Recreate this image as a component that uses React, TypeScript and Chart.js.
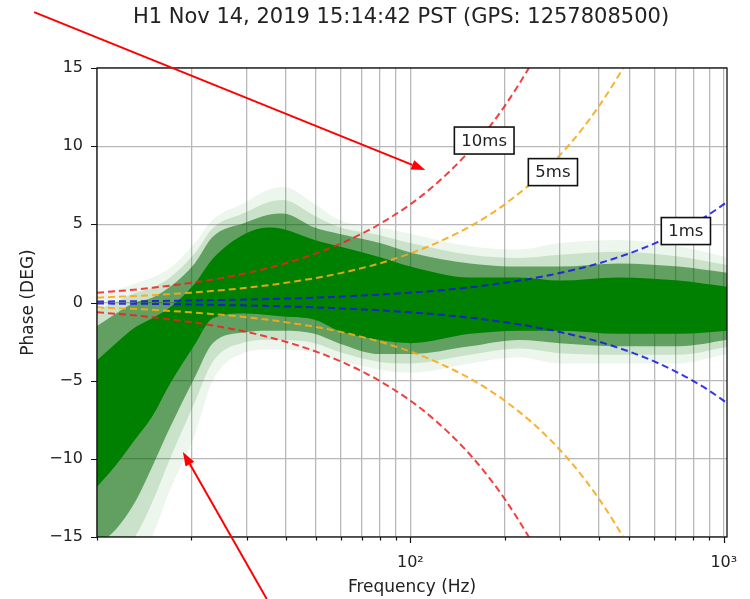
import React, { useEffect, useRef } from 'react';
import { Chart, registerables } from 'chart.js';

Chart.register(...registerables);

const TITLE = 'H1 Nov 14, 2019 15:14:42 PST (GPS: 1257808500)';
const X_LABEL = 'Frequency (Hz)';
const Y_LABEL = 'Phase (DEG)';
const X_MIN = 10;
const X_MAX = 1024;
const Y_MIN = -15;
const Y_MAX = 15;
const Y_TICKS = [-15, -10, -5, 0, 5, 10, 15];
const X_GRID_TICKS = [10, 20, 30, 40, 50, 60, 70, 80, 90, 100, 200, 300, 400, 500, 600, 700, 800, 900, 1000];
const X_MAJOR_TICKS = [100, 1000];
const X_MAJOR_LABELS = ['10²', '10³'];

const BAND_FREQ = [10, 11.5, 13.2, 15, 17.1, 20.5, 23.4, 29.7, 35, 39.2, 49.5, 59, 80, 100, 155, 222, 300, 463, 718, 1024];
const CORE_UPPER = [-3.7, -2.6, -1.6, -1.0, -0.3, 1.2, 2.8, 4.4, 4.8, 4.7, 4.0, 3.6, 2.9, 2.3, 1.6, 1.6, 1.4, 1.6, 1.4, 1.0];
const CORE_LOWER = [-11.8, -10.4, -8.8, -7.3, -5.2, -2.7, -1.0, -0.7, -0.8, -0.9, -1.1, -1.8, -2.4, -2.6, -2.0, -1.8, -1.8, -2.0, -2.0, -1.8];
const INNER_UPPER = [-1.5, -0.7, 0.0, 0.3, 1.0, 2.5, 4.2, 5.1, 5.6, 5.7, 4.8, 4.4, 3.8, 3.2, 2.5, 2.3, 2.3, 2.5, 2.3, 1.9];
const INNER_LOWER = [-15.5, -14.5, -12.8, -10.5, -8.0, -4.8, -2.6, -1.9, -1.8, -1.8, -2.0, -2.6, -3.3, -3.3, -2.8, -2.4, -2.6, -2.8, -2.8, -2.4];
const MIDDLE_UPPER = [-0.5, 0.05, 0.6, 0.95, 1.6, 3.15, 4.75, 5.75, 6.4, 6.55, 5.55, 4.85, 4.3, 3.8, 3.05, 2.85, 3.05, 3.25, 2.95, 2.4];
const MIDDLE_LOWER = [-17, -16, -15, -12.8, -10, -6.4, -3.8, -2.55, -2.4, -2.4, -2.6, -3.15, -3.8, -3.9, -3.35, -2.95, -3.25, -3.35, -3.35, -2.85];
const HALO_UPPER = [0.5, 0.8, 1.2, 1.6, 2.2, 3.8, 5.3, 6.4, 7.2, 7.4, 6.3, 5.3, 4.8, 4.4, 3.6, 3.4, 3.8, 4.0, 3.6, 2.9];
const HALO_LOWER = [-19, -18, -17, -15, -12, -8.5, -5, -3.2, -3.0, -3.0, -3.2, -3.7, -4.3, -4.5, -3.9, -3.5, -3.9, -3.9, -3.9, -3.3];

// Time-delay phase curves (±)
const DELAY_FREQ = [10, 12, 15, 20, 25, 30, 40, 50, 60, 70, 80, 100, 120, 150, 180, 200, 240, 280, 320, 360, 400, 450, 500, 600, 700, 800, 900, 1024];
const P10MS = [0.63, 0.75, 0.94, 1.26, 1.57, 1.88, 2.51, 3.14, 3.77, 4.40, 5.03, 6.28, 7.54, 9.42, 11.31, 12.57, 15.08, 17.59];
const N10MS = [-0.63, -0.75, -0.94, -1.26, -1.57, -1.88, -2.51, -3.14, -3.77, -4.40, -5.03, -6.28, -7.54, -9.42, -11.31, -12.57, -15.08, -17.59];
const P5MS = [0.31, 0.38, 0.47, 0.63, 0.79, 0.94, 1.26, 1.57, 1.88, 2.20, 2.51, 3.14, 3.77, 4.71, 5.65, 6.28, 7.54, 8.80, 10.05, 11.31, 12.57, 14.14, 15.71, 18.85];
const N5MS = [-0.31, -0.38, -0.47, -0.63, -0.79, -0.94, -1.26, -1.57, -1.88, -2.20, -2.51, -3.14, -3.77, -4.71, -5.65, -6.28, -7.54, -8.80, -10.05, -11.31, -12.57, -14.14, -15.71, -18.85];
const P1MS = [0.06, 0.08, 0.09, 0.13, 0.16, 0.19, 0.25, 0.31, 0.38, 0.44, 0.50, 0.63, 0.75, 0.94, 1.13, 1.26, 1.51, 1.76, 2.01, 2.26, 2.51, 2.83, 3.14, 3.77, 4.40, 5.03, 5.65, 6.43];
const N1MS = [-0.06, -0.08, -0.09, -0.13, -0.16, -0.19, -0.25, -0.31, -0.38, -0.44, -0.50, -0.63, -0.75, -0.94, -1.13, -1.26, -1.51, -1.76, -2.01, -2.26, -2.51, -2.83, -3.14, -3.77, -4.40, -5.03, -5.65, -6.43];

// Curve labels
const LABELS = ['10ms', '5ms', '1ms'];
const LABEL_FREQ = [172, 285, 757];
const LABEL_PHASE = [10.36, 8.34, 4.57];

// Red annotation arrows (data coordinates)
const ARROW_TAIL_FREQ = [6.3, 34.8];
const ARROW_TAIL_PHASE = [18.57, -18.96];
const ARROW_HEAD_FREQ = [111.6, 18.8];
const ARROW_HEAD_PHASE = [8.47, -9.56];

const FONT = '"DejaVu Sans", sans-serif';
const GREEN = 'rgb(0,128,0)';

function pts(xs: number[], ys: number[]) {
  return ys.map((y, i) => ({ x: xs[i], y }));
}

function band(data: number[], fill: any, color: string, order: number) {
  return {
    data: pts(BAND_FREQ, data),
    borderWidth: 0,
    borderColor: 'transparent',
    backgroundColor: color,
    pointRadius: 0,
    fill,
    cubicInterpolationMode: 'monotone',
    order,
  };
}

function dashed(data: number[], color: string) {
  return {
    data: pts(DELAY_FREQ, data),
    borderColor: color,
    borderWidth: 2,
    borderDash: [7, 4],
    pointRadius: 0,
    fill: false,
    cubicInterpolationMode: 'monotone',
    order: 0,
  };
}

const overlay = {
  id: 'overlay',
  afterDatasetsDraw(chart: any) {
    const { ctx, scales } = chart;
    const xs = scales.x;
    const ys = scales.y;
    ctx.save();
    ctx.font = `16.5px ${FONT}`;
    ctx.textAlign = 'center';
    ctx.textBaseline = 'middle';
    LABELS.forEach((t, i) => {
      const cx = xs.getPixelForValue(LABEL_FREQ[i]);
      const cy = ys.getPixelForValue(LABEL_PHASE[i]);
      const w = ctx.measureText(t).width + 14;
      const h = 27;
      ctx.fillStyle = '#fff';
      ctx.fillRect(cx - w / 2, cy - h / 2, w, h);
      ctx.strokeStyle = '#111';
      ctx.lineWidth = 1.6;
      ctx.strokeRect(cx - w / 2, cy - h / 2, w, h);
      ctx.fillStyle = '#222';
      ctx.fillText(t, cx, cy + 1);
    });
    ctx.restore();
  },
  afterDraw(chart: any) {
    const { ctx, chartArea: a, scales } = chart;
    const xs = scales.x;
    const ys = scales.y;
    ctx.save();
    // frame
    ctx.strokeStyle = '#111';
    ctx.lineWidth = 1.3;
    ctx.strokeRect(a.left, a.top, a.right - a.left, a.bottom - a.top);
    // tick marks
    ctx.lineWidth = 1.2;
    ctx.beginPath();
    X_GRID_TICKS.forEach((v) => {
      const px = Math.round(xs.getPixelForValue(v)) + 0.5;
      const len = X_MAJOR_TICKS.includes(v) ? 6 : 3.5;
      ctx.moveTo(px, a.bottom);
      ctx.lineTo(px, a.bottom + len);
    });
    Y_TICKS.forEach((v) => {
      const py = Math.round(ys.getPixelForValue(v)) + 0.5;
      ctx.moveTo(a.left, py);
      ctx.lineTo(a.left - 6, py);
    });
    ctx.stroke();
    // title & axis titles
    ctx.fillStyle = '#222';
    ctx.textAlign = 'center';
    ctx.textBaseline = 'middle';
    ctx.font = `21px ${FONT}`;
    ctx.fillText(TITLE, 401, 18);
    ctx.font = `17px ${FONT}`;
    ctx.fillText(X_LABEL, (a.left + a.right) / 2, 588);
    ctx.save();
    ctx.translate(29, (a.top + a.bottom) / 2);
    ctx.rotate(-Math.PI / 2);
    ctx.fillText(Y_LABEL, 0, 0);
    ctx.restore();
    // arrows
    ctx.strokeStyle = 'rgb(255,0,0)';
    ctx.fillStyle = 'rgb(255,0,0)';
    ctx.lineWidth = 2;
    ARROW_TAIL_FREQ.forEach((_, i) => {
      const x0 = xs.getPixelForValue(ARROW_TAIL_FREQ[i]);
      const y0 = ys.getPixelForValue(ARROW_TAIL_PHASE[i]);
      const x1 = xs.getPixelForValue(ARROW_HEAD_FREQ[i]);
      const y1 = ys.getPixelForValue(ARROW_HEAD_PHASE[i]);
      const ang = Math.atan2(y1 - y0, x1 - x0);
      const hl = 14;
      const hw = 5;
      const bx = x1 - hl * Math.cos(ang);
      const by = y1 - hl * Math.sin(ang);
      ctx.beginPath();
      ctx.moveTo(x0, y0);
      ctx.lineTo(bx, by);
      ctx.stroke();
      ctx.beginPath();
      ctx.moveTo(x1, y1);
      ctx.lineTo(bx + hw * Math.sin(ang), by - hw * Math.cos(ang));
      ctx.lineTo(bx - hw * Math.sin(ang), by + hw * Math.cos(ang));
      ctx.closePath();
      ctx.fill();
    });
    ctx.restore();
  },
};

export default function App() {
  const ref = useRef<HTMLCanvasElement | null>(null);
  useEffect(() => {
    if (!ref.current) return;
    const datasets: any[] = [
      // pairs: halo, middle, inner, core (upper fills to the lower one after it)
      band(HALO_UPPER, '+1', 'rgba(0,128,0,0.07)', 4),
      band(HALO_LOWER, false, 'transparent', 4),
      band(MIDDLE_UPPER, '+1', 'rgba(0,115,0,0.15)', 3),
      band(MIDDLE_LOWER, false, 'transparent', 3),
      band(INNER_UPPER, '+1', 'rgba(0,100,0,0.52)', 2),
      band(INNER_LOWER, false, 'transparent', 2),
      band(CORE_UPPER, '+1', GREEN, 1),
      band(CORE_LOWER, false, 'transparent', 1),
      dashed(P10MS, 'rgba(240,30,30,0.85)'),
      dashed(N10MS, 'rgba(240,30,30,0.85)'),
      dashed(P5MS, 'rgba(250,170,20,0.9)'),
      dashed(N5MS, 'rgba(250,170,20,0.9)'),
      dashed(P1MS, 'rgba(20,20,230,0.85)'),
      dashed(N1MS, 'rgba(20,20,230,0.85)'),
    ];
    const chart = new Chart(ref.current, {
      type: 'line',
      data: { datasets },
      options: {
        responsive: false,
        animation: false,
        layout: { padding: { top: 68, right: 23, left: 0, bottom: 0 } },
        plugins: {
          legend: { display: false },
          title: { display: false },
          tooltip: { enabled: false },
        },
        scales: {
          x: {
            type: 'logarithmic',
            min: X_MIN,
            max: X_MAX,
            afterBuildTicks: (s: any) => {
              s.ticks = X_GRID_TICKS.map((v) => ({ value: v }));
            },
            afterFit: (s: any) => {
              s.height = 62;
              s.paddingLeft = 0;
              s.paddingRight = 0;
            },
            grid: { color: '#b8b8b8', lineWidth: 1.3, drawTicks: false },
            border: { display: false },
            ticks: {
              autoSkip: false,
              maxRotation: 0,
              padding: 16,
              color: '#222',
              font: { family: FONT, size: 16 },
              callback: (v: any) => {
                const i = X_MAJOR_TICKS.indexOf(Number(v));
                return i >= 0 ? X_MAJOR_LABELS[i] : '';
              },
            },
          },
          y: {
            type: 'linear',
            min: Y_MIN,
            max: Y_MAX,
            afterBuildTicks: (s: any) => {
              s.ticks = Y_TICKS.map((v) => ({ value: v }));
            },
            afterFit: (s: any) => {
              s.width = 97;
              s.paddingTop = 0;
              s.paddingBottom = 0;
            },
            grid: { color: '#b8b8b8', lineWidth: 1.3, drawTicks: false },
            border: { display: false },
            ticks: {
              padding: 14,
              color: '#222',
              font: { family: FONT, size: 16 },
              callback: (v: any) => (Number(v) < 0 ? '\u2212' + Math.abs(Number(v)) : String(v)),
            },
          },
        },
      },
      plugins: [overlay],
    } as any);
    return () => chart.destroy();
  }, []);
  return (
    <div style={{ position: 'fixed', left: 0, top: 0, width: 750, height: 599, background: '#fff' }}>
      <canvas ref={ref} width={750} height={599} style={{ display: 'block' }} />
    </div>
  );
}
